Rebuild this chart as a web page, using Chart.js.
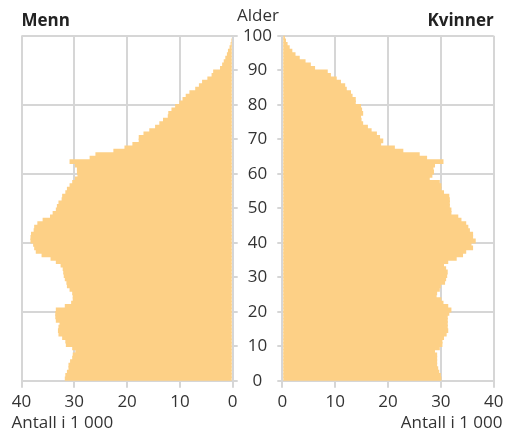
<!DOCTYPE html>
<html>
<head>
<meta charset="utf-8">
<script src="https://cdn.jsdelivr.net/npm/chart.js@4"></script>
<style>
  html, body { margin: 0; padding: 0; background: #fff; }
  #wrap { position: relative; width: 513px; height: 434px; }
  #wrap canvas { position: absolute; left: 0; top: 0; }
</style>
</head>
<body>
<div id="wrap">
  <canvas id="menChart" width="513" height="434"></canvas>
  <canvas id="womenChart" width="513" height="434"></canvas>
</div>
<script>
// ages 0-99, one bar per year
var ages = Array.from({ length: 100 }, function (_, i) { return i; });

// Antall i 1 000
var menn = [
  31.8, 31.7, 31.4, 31.1, 31.1, 30.8, 30.4, 30.3, 29.8, 30.4,
  31.6, 31.7, 32.3, 33.0, 33.1, 33.0, 32.8, 33.5, 33.6, 33.6,
  33.5, 31.8, 30.6, 30.3, 30.3, 30.4, 30.9, 31.4, 31.5, 31.8,
  32.0, 32.1, 32.2, 32.6, 33.5, 34.5, 36.2, 37.3, 37.6, 37.8,
  38.3, 38.3, 38.2, 37.7, 37.6, 37.0, 36.0, 34.6, 34.1, 33.5,
  33.3, 33.0, 32.4, 32.3, 31.7, 31.4, 30.9, 30.4, 29.9, 29.4,
  29.5, 29.5, 29.9, 30.9, 27.1, 26.0, 22.6, 20.5, 19.0, 17.8,
  17.8, 16.9, 15.8, 14.7, 13.9, 13.2, 12.3, 12.2, 11.6, 10.9,
  10.1, 9.5, 8.9, 8.2, 7.1, 6.4, 5.8, 4.8, 4.0, 3.7,
  2.4, 2.0, 1.7, 1.4, 1.1, 0.9, 0.6, 0.4, 0.3, 0.2
];
var kvinner = [
  30.1, 30.0, 29.7, 29.5, 29.3, 29.3, 29.3, 29.3, 28.9, 29.8,
  30.3, 30.3, 30.6, 31.1, 31.4, 31.3, 31.3, 31.3, 31.3, 31.6,
  32.0, 31.4, 30.5, 30.1, 29.2, 29.3, 29.8, 30.0, 30.8, 31.0,
  31.2, 31.3, 31.0, 30.6, 31.4, 33.0, 34.2, 34.8, 36.1, 35.8,
  36.6, 36.1, 36.1, 35.5, 35.2, 34.8, 33.9, 33.3, 32.0, 32.0,
  31.7, 31.7, 31.7, 31.6, 30.6, 30.1, 30.1, 29.8, 27.9, 28.4,
  28.7, 28.6, 28.9, 30.5, 27.4, 26.0, 22.9, 21.3, 18.7, 19.1,
  18.5, 17.9, 16.9, 16.2, 15.3, 15.0, 14.9, 15.3, 15.1, 14.9,
  13.9, 13.9, 13.3, 13.0, 12.2, 11.9, 11.1, 10.3, 9.2, 8.6,
  6.2, 5.4, 4.4, 3.3, 2.5, 1.9, 1.4, 1.0, 0.7, 0.5
];

var valueMax = 40;
var valueStep = 10;
var ageMax = 100;
var ageStep = 10;

var barColor = '#fdd086';
var gridColor = '#d6d6d6';
var textColor = '#333333';
var fontFamily = '"Open Sans", sans-serif';

Chart.defaults.font.family = fontFamily;
Chart.defaults.font.size = 17;
Chart.defaults.color = textColor;

var toPoints = function (values) {
  return values.map(function (v, i) { return { x: v, y: ages[i] + 0.5 }; });
};

// free text that sits outside the axis boxes
var textPlugin = {
  id: 'freeText',
  afterDraw: function (chart, args, opts) {
    var ctx = chart.ctx;
    ctx.save();
    ctx.fillStyle = textColor;
    ctx.font = '17px ' + fontFamily;
    ctx.textBaseline = 'alphabetic';
    opts.items.forEach(function (it) {
      ctx.textAlign = it.align;
      ctx.fillText(it.text, it.x, it.y);
    });
    ctx.restore();
  }
};

var makeChart = function (id, label, values, side) {
  var isLeft = side === 'left';
  return new Chart(document.getElementById(id), {
    type: 'bar',
    data: {
      datasets: [{
        label: label,
        data: toPoints(values),
        backgroundColor: barColor,
        borderWidth: 0,
        barPercentage: 1.4,
        categoryPercentage: 1
      }]
    },
    plugins: [textPlugin],
    options: {
      indexAxis: 'y',
      responsive: false,
      animation: false,
      layout: { padding: isLeft ? { left: 21.5, right: 0, top: 0, bottom: 0 } : { left: 0, right: 19.3, top: 0, bottom: 0 } },
      plugins: {
        legend: { display: false },
        tooltip: { enabled: false },
        title: {
          display: true,
          text: label,
          align: isLeft ? 'start' : 'end',
          color: '#222',
          font: { size: 17, weight: 'bold' },
          padding: { top: 11, bottom: 4.3 }
        },
        freeText: {
          items: isLeft
            ? [{ text: 'Alder', x: 258, y: 20.7, align: 'center' },
               { text: 'Antall i 1 000', x: 11.5, y: 428, align: 'left' }]
            : [{ text: 'Antall i 1 000', x: 502.5, y: 428, align: 'right' }]
        }
      },
      scales: {
        x: {
          type: 'linear',
          min: 0,
          max: valueMax,
          reverse: isLeft,
          offset: false,
          border: { display: false },
          grid: { color: gridColor, lineWidth: 2, tickLength: 7, offset: false },
          ticks: { stepSize: valueStep, padding: 4.5 },
          afterFit: function (scale) { scale.height = 53.3; }
        },
        y: {
          type: 'linear',
          position: isLeft ? 'right' : 'left',
          min: 0,
          max: ageMax,
          offset: false,
          border: { display: false },
          grid: {
            offset: false,
            color: function (c) { return c.tick && c.tick.value % 20 === 0 ? gridColor : 'rgba(0,0,0,0)'; },
            tickColor: gridColor,
            lineWidth: 2,
            tickLength: 5
          },
          ticks: {
            display: isLeft,
            stepSize: ageStep,
            crossAlign: 'center',
            padding: 5.2
          },
          afterFit: function (scale) { scale.width = isLeft ? 280.3 : 282.3; }
        }
      }
    }
  });
};

makeChart('menChart', 'Menn', menn, 'left');
makeChart('womenChart', 'Kvinner', kvinner, 'right');
</script>
</body>
</html>
